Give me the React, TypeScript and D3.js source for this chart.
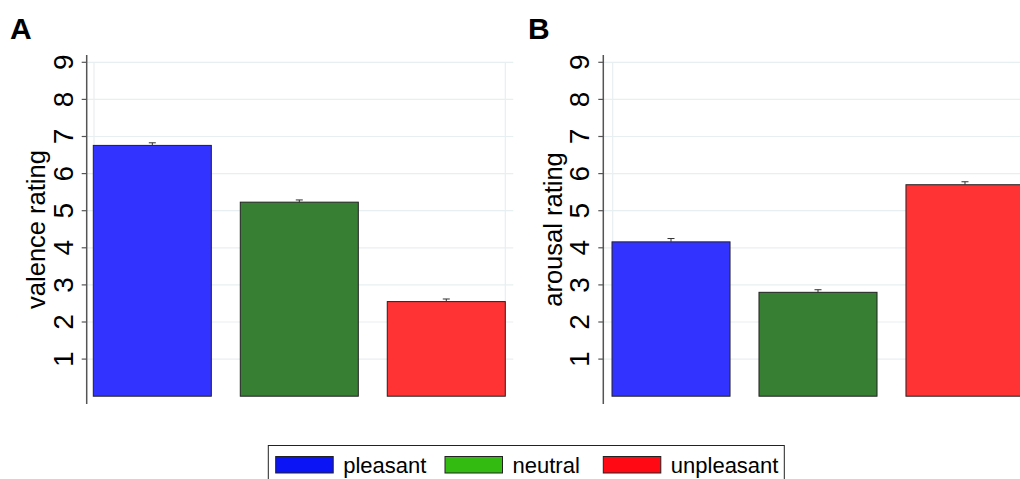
import React from "react";
import * as d3 from "d3";

const categories = ["pleasant", "neutral", "unpleasant"];
const valenceMeans = [6.76, 5.23, 2.55];
const valenceErrors = [0.07, 0.06, 0.07];
const arousalMeans = [4.16, 2.8, 5.7];
const arousalErrors = [0.09, 0.07, 0.08];
const yTicks = [1, 2, 3, 4, 5, 6, 7, 8, 9];
const barColors = ["#3333ff", "#367f33", "#ff3333"];
const legendColors = ["#0a14f5", "#33bb11", "#ff0a14"];

const FONT = "'Liberation Sans', Arial, Helvetica, sans-serif";

const y = d3.scaleLinear().domain([0, 9]).range([396.2, 62.3]);

function Panel({ letter, letterX, axisX, barStart, title, means, errors }: any) {
  const x = d3
    .scaleBand<string>()
    .domain(categories)
    .range([barStart, barStart + 412])
    .paddingInner(0.197)
    .paddingOuter(0);
  const gridEnd = barStart + 420;
  return (
    <g>
      <text x={letterX} y={39} fontSize={30} fontWeight="bold" fontFamily={FONT} fill="#000">
        {letter}
      </text>
      {yTicks.map((t) => (
        <line key={"g" + t} x1={axisX} x2={gridEnd} y1={y(t)} y2={y(t)} stroke="#e8eff0" strokeWidth={1.2} />
      ))}
      <line x1={barStart + 0.7} x2={barStart + 0.7} y1={y(9)} y2={y(0)} stroke="#e8eff0" strokeWidth={1.2} />
      <line x1={barStart + 412} x2={barStart + 412} y1={y(9)} y2={y(0)} stroke="#e8eff0" strokeWidth={1.2} />
      {categories.map((c, i) => (
        <rect
          key={c}
          x={x(c)}
          y={y(means[i])}
          width={x.bandwidth()}
          height={y(0) - y(means[i])}
          fill={barColors[i]}
          stroke="#222"
          strokeWidth={1}
        />
      ))}
      {categories.map((c, i) => {
        const cx = (x(c) as number) + x.bandwidth() / 2;
        return (
          <g key={"e" + c} stroke="#333" strokeWidth={1}>
            <line x1={cx} x2={cx} y1={y(means[i])} y2={y(means[i] + errors[i])} />
            <line x1={cx - 3.5} x2={cx + 3.5} y1={y(means[i] + errors[i])} y2={y(means[i] + errors[i])} />
          </g>
        );
      })}
      <line x1={axisX} x2={axisX} y1={55} y2={404} stroke="#555" strokeWidth={1.5} />
      {yTicks.map((t) => (
        <g key={"t" + t}>
          <line x1={axisX - 5} x2={axisX} y1={y(t)} y2={y(t)} stroke="#555" strokeWidth={1.2} />
          <text
            transform={`translate(${axisX - 14},${y(t)}) rotate(-90)`}
            textAnchor="middle"
            fontSize={28}
            fontFamily={FONT}
            fill="#000"
          >
            {t}
          </text>
        </g>
      ))}
      <text
        transform={`translate(${axisX - 41.5},229.5) rotate(-90)`}
        textAnchor="middle"
        fontSize={25.5}
        fontFamily={FONT}
        fill="#000"
      >
        {title}
      </text>
    </g>
  );
}

export default function App() {
  const legendSwatchX = [275.7, 445, 603.3];
  return (
    <svg width={1020} height={479} style={{ position: "absolute", left: 0, top: 0 }}>
      <rect x={0} y={0} width={1020} height={479} fill="#fff" />
      <Panel letter="A" letterX={10} axisX={86.7} barStart={93.3} title="valence rating" means={valenceMeans} errors={valenceErrors} />
      <Panel letter="B" letterX={528} axisX={603.3} barStart={612} title="arousal rating" means={arousalMeans} errors={arousalErrors} />
      <rect x={268.3} y={445.5} width={516} height={50} fill="#fff" stroke="#222" strokeWidth={1} />
      {categories.map((c, i) => (
        <g key={"l" + c}>
          <rect x={legendSwatchX[i]} y={456.5} width={57.5} height={16.5} fill={legendColors[i]} stroke="#222" strokeWidth={1} />
          <text x={legendSwatchX[i] + 67.5} y={472.5} fontSize={22} fontFamily={FONT} fill="#000">
            {c}
          </text>
        </g>
      ))}
    </svg>
  );
}
